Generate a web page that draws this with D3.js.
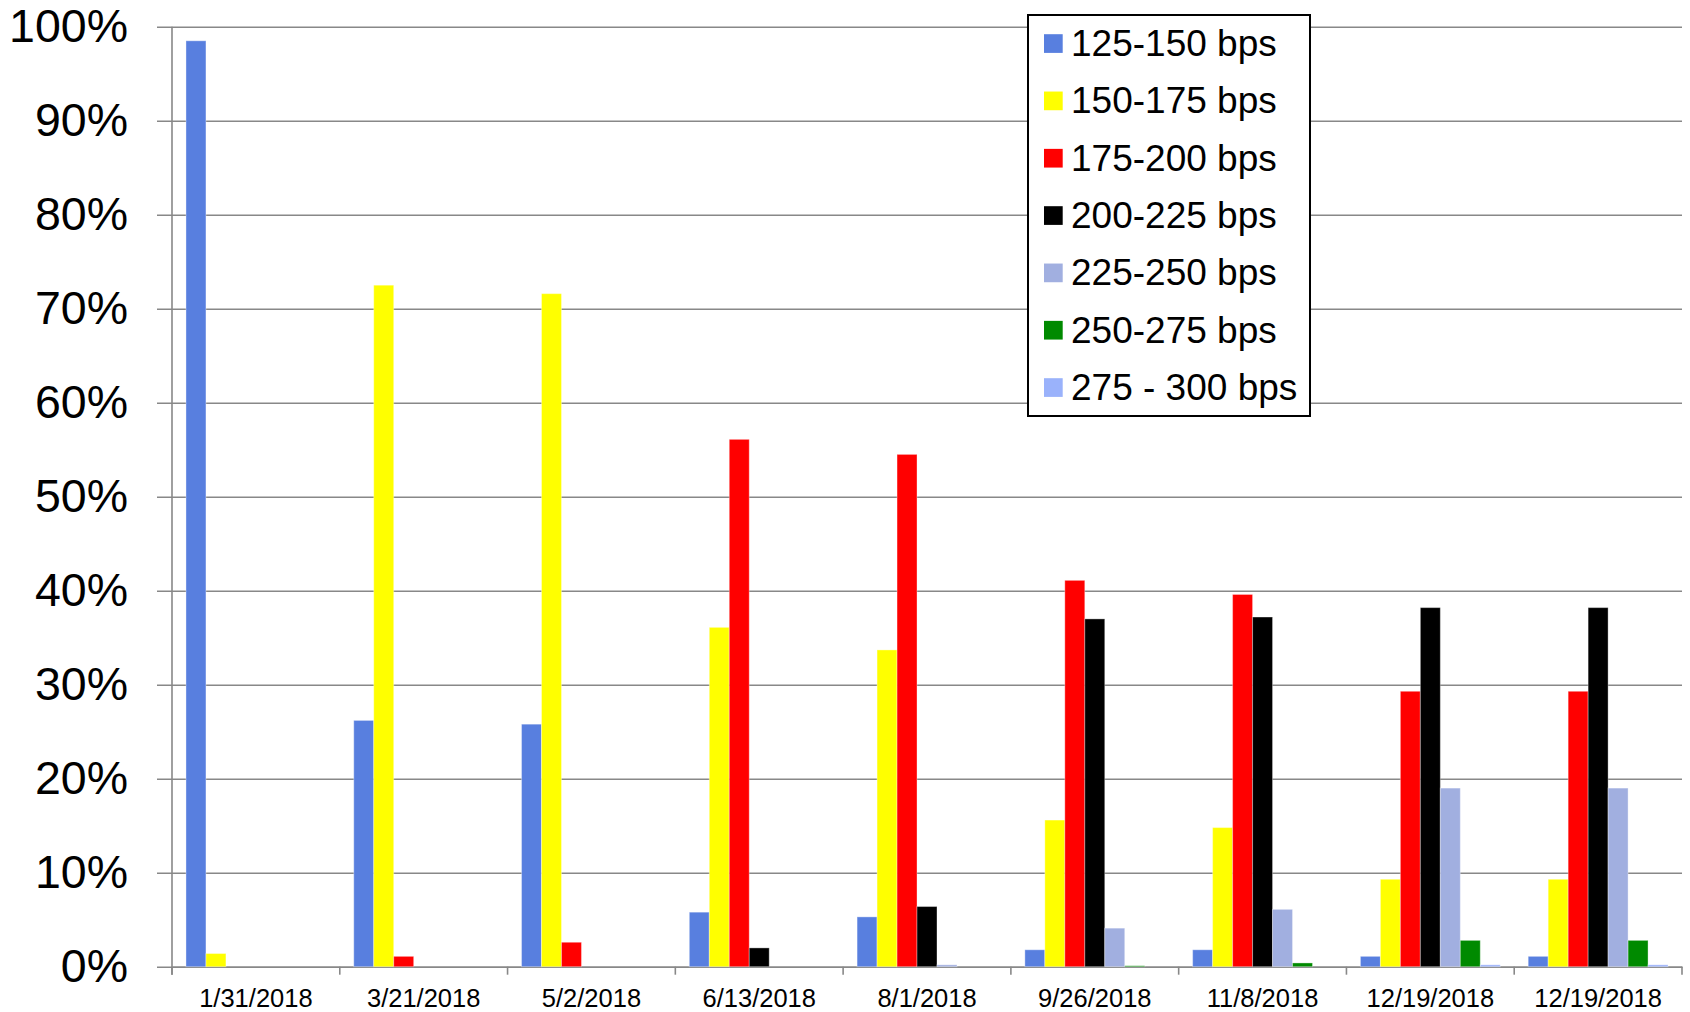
<!DOCTYPE html>
<html>
<head>
<meta charset="utf-8">
<script src="https://cdn.jsdelivr.net/npm/d3@7"></script>
<style>
  html, body { margin: 0; padding: 0; background: #fff; }
  svg { display: block; font-family: "Liberation Sans", Arial, sans-serif; }
</style>
</head>
<body>
<svg id="chart" width="1690" height="1012"></svg>
<script>
// Survey dates (the last date appears twice)
const categories = ["1/31/2018", "3/21/2018", "5/2/2018", "6/13/2018", "8/1/2018",
                    "9/26/2018", "11/8/2018", "12/19/2018", "12/19/2018"];

// Rate bands and their colours
const seriesNames = ["125-150 bps", "150-175 bps", "175-200 bps", "200-225 bps",
                     "225-250 bps", "250-275 bps", "275 - 300 bps"];
const seriesColors = ["#587fdf", "#ffff00", "#ff0000", "#000000",
                      "#a1afe0", "#008a00", "#9ab2fb"];

// Share of responses (%) per band, one value per date
const band125 = [98.5, 26.2, 25.8, 5.8, 5.3, 1.8, 1.8, 1.1, 1.1];
const band150 = [1.4, 72.5, 71.6, 36.1, 33.7, 15.6, 14.8, 9.3, 9.3];
const band175 = [0, 1.1, 2.6, 56.1, 54.5, 41.1, 39.6, 29.3, 29.3];
const band200 = [0, 0, 0, 2.0, 6.4, 37.0, 37.2, 38.2, 38.2];
const band225 = [0, 0, 0, 0, 0.2, 4.1, 6.1, 19.0, 19.0];
const band250 = [0, 0, 0, 0, 0, 0.1, 0.4, 2.8, 2.8];
const band275 = [0, 0, 0, 0, 0, 0, 0, 0.2, 0.2];

const seriesValues = [band125, band150, band175, band200, band225, band250, band275];
const yTicks = [0, 10, 20, 30, 40, 50, 60, 70, 80, 90, 100];

(function drawChart() {
  const svg = d3.select("#chart");
  const plotLeft = 172, plotRight = 1682, plotTop = 26.7, plotBottom = 966.7;
  const gridColor = "#888888";
  const fontFamily = "'Liberation Sans', Arial, sans-serif";

  const catIdx = d3.range(categories.length);
  const x0 = d3.scaleBand().domain(catIdx).range([plotLeft, plotRight]).padding(0);
  const x1 = d3.scaleBand().domain(d3.range(seriesNames.length))
    .range([0, x0.bandwidth()]).paddingInner(0).paddingOuter(0.7);
  const y = d3.scaleLinear().domain([0, 100]).range([plotBottom, plotTop]);

  // Horizontal gridlines with outward ticks and percentage labels
  const yAxis = d3.axisLeft(y).tickValues(yTicks).tickFormat(d => d + "%")
    .tickSizeInner(-(plotRight - plotLeft)).tickSizeOuter(0).tickPadding(0);
  const gy = svg.append("g").attr("transform", `translate(${plotLeft},0)`).call(yAxis);
  gy.select(".domain").remove();
  gy.selectAll(".tick line").attr("x1", -15).attr("stroke", gridColor).attr("stroke-width", 1.6);
  gy.selectAll(".tick text")
    .attr("x", -44).attr("dy", "0.32em")
    .attr("font-size", 46.5).attr("fill", "#000")
    .attr("font-family", fontFamily);

  // Vertical axis line
  svg.append("line")
    .attr("x1", plotLeft).attr("x2", plotLeft).attr("y1", plotTop).attr("y2", plotBottom + 8)
    .attr("stroke", gridColor).attr("stroke-width", 1.6);

  // Category axis: ticks on band boundaries, labels centred in bands
  const xAxis = d3.axisBottom(x0).tickFormat(i => categories[i]).tickSize(0).tickPadding(0);
  const gx = svg.append("g").attr("transform", `translate(0,${plotBottom})`).call(xAxis);
  gx.select(".domain").attr("stroke", gridColor).attr("stroke-width", 1.6);
  gx.selectAll(".tick text")
    .attr("y", 22).attr("dy", "0.71em")
    .attr("font-size", 25.5).attr("fill", "#000")
    .attr("font-family", fontFamily);
  gx.selectAll(".boundary")
    .data(d3.range(categories.length + 1))
    .join("line")
    .attr("class", "boundary")
    .attr("x1", i => plotLeft + i * x0.step()).attr("x2", i => plotLeft + i * x0.step())
    .attr("y1", 0).attr("y2", 8)
    .attr("stroke", gridColor).attr("stroke-width", 1.6);

  // Grouped bars
  const groups = svg.append("g").selectAll("g")
    .data(catIdx).join("g")
    .attr("transform", i => `translate(${x0(i)},0)`);
  groups.selectAll("rect")
    .data(i => seriesValues.map((vals, s) => ({ s, v: vals[i] })).filter(d => d.v > 0))
    .join("rect")
    .attr("x", d => x1(d.s))
    .attr("width", x1.bandwidth())
    .attr("y", d => y(d.v))
    .attr("height", d => y(0) - y(d.v))
    .attr("fill", d => seriesColors[d.s])
    .attr("stroke", "rgba(255,255,255,0.35)")
    .attr("stroke-width", 1);

  // Legend
  const lg = svg.append("g").attr("transform", "translate(1028,15)");
  lg.append("rect").attr("width", 282).attr("height", 401)
    .attr("fill", "#fff").attr("stroke", "#000").attr("stroke-width", 2);
  const rowY = d3.scalePoint().domain(d3.range(seriesNames.length)).range([28.5, 372.5]);
  const items = lg.selectAll(".item").data(seriesNames).join("g")
    .attr("class", "item")
    .attr("transform", (d, i) => `translate(0,${rowY(i)})`);
  items.append("rect").attr("x", 16).attr("y", -9.3).attr("width", 18.7).attr("height", 18.7)
    .attr("fill", (d, i) => seriesColors[i]);
  items.append("text").attr("x", 43).attr("dy", "0.34em")
    .attr("font-size", 37).attr("fill", "#000")
    .attr("font-family", fontFamily).text(d => d);
})();
</script>
</body>
</html>
